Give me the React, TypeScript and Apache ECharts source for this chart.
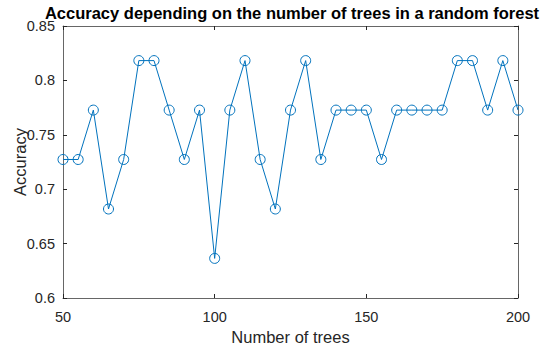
import React, { useEffect, useRef } from "react";
import * as echarts from "echarts";

const trees = [50, 55, 60, 65, 70, 75, 80, 85, 90, 95, 100, 105, 110, 115, 120, 125, 130, 135, 140, 145, 150, 155, 160, 165, 170, 175, 180, 185, 190, 195, 200];
const accuracy = [0.7273, 0.7273, 0.7727, 0.6818, 0.7273, 0.8182, 0.8182, 0.7727, 0.7273, 0.7727, 0.6364, 0.7727, 0.8182, 0.7273, 0.6818, 0.7727, 0.8182, 0.7273, 0.7727, 0.7727, 0.7727, 0.7273, 0.7727, 0.7727, 0.7727, 0.7727, 0.8182, 0.8182, 0.7727, 0.8182, 0.7727];
const titleText = "Accuracy depending on the number of trees in a random forest";

const FONT = "Liberation Sans, Arial, sans-serif";
const AXIS = "#262626";

export default function App() {
  const ref = useRef<HTMLDivElement>(null);
  useEffect(() => {
    if (!ref.current) return;
    const chart = echarts.init(ref.current, null, { renderer: "svg" });
    const axisLine = { show: true, lineStyle: { color: "#666", width: 1 } };
    const tick = { show: true, inside: true, length: 4, lineStyle: { color: AXIS, width: 1 } };
    chart.setOption({
      animation: false,
      backgroundColor: "#fff",
      graphic: [
        {
          type: "text",
          x: 292,
          y: 13,
          style: {
            text: titleText,
            fontFamily: FONT,
            fontSize: 16.5,
            fontWeight: "bold",
            fill: "#000",
            align: "center",
            verticalAlign: "middle",
          },
        },
      ],
      grid: { left: 63, right: 32, top: 26, bottom: 49, containLabel: false, outerBoundsMode: "none" },
      xAxis: [
        {
          type: "value",
          min: 50,
          max: 200,
          interval: 50,
          name: "Number of trees",
          nameLocation: "middle",
          nameGap: 30,
          nameMoveOverlap: false,
          nameTextStyle: { fontFamily: FONT, fontSize: 16.5, color: AXIS },
          axisLine,
          axisTick: tick,
          axisLabel: { fontFamily: FONT, fontSize: 14.5, color: AXIS, margin: 11 },
          splitLine: { show: false },
        },
        {
          type: "value",
          position: "top",
          min: 50,
          max: 200,
          interval: 50,
          axisLine,
          axisTick: tick,
          axisLabel: { show: false },
          splitLine: { show: false },
        },
      ],
      yAxis: [
        {
          type: "value",
          min: 0.6,
          max: 0.85,
          interval: 0.05,
          name: "Accuracy",
          nameLocation: "middle",
          nameGap: 35,
          nameMoveOverlap: false,
          nameTextStyle: { fontFamily: FONT, fontSize: 16.5, color: AXIS },
          axisLine,
          axisTick: tick,
          axisLabel: {
            fontFamily: FONT,
            fontSize: 14.5,
            lineHeight: 12,
            color: AXIS,
            margin: 8,
            formatter: (v: number) => String(parseFloat(v.toFixed(2))),
          },
          splitLine: { show: false },
        },
        {
          type: "value",
          position: "right",
          min: 0.6,
          max: 0.85,
          interval: 0.05,
          axisLine,
          axisTick: tick,
          axisLabel: { show: false },
          splitLine: { show: false },
        },
      ],
      series: [
        {
          type: "line",
          data: trees.map((t, i) => [t, accuracy[i]]),
          symbol: "circle",
          symbolSize: 10,
          lineStyle: { color: "#0072BD", width: 1 },
          itemStyle: { color: "rgba(0,0,0,0)", borderColor: "#0072BD", borderWidth: 1 },
          emphasis: { disabled: true },
        },
      ],
    });
    return () => chart.dispose();
  }, []);
  return <div ref={ref} style={{ width: 550, height: 347, position: "absolute", left: 0, top: 0 }} />;
}
